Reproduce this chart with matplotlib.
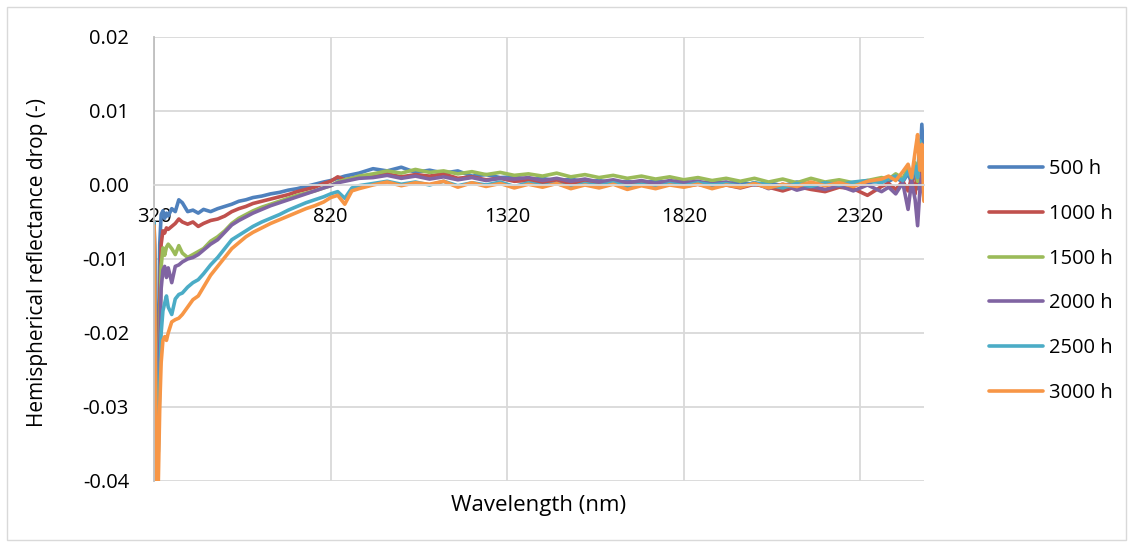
import numpy as np
import matplotlib
matplotlib.use('Agg')
import matplotlib.pyplot as plt
from matplotlib.patches import Rectangle

# Wavelength grid (nm) - dense at the UV end, sparser in the flat middle
wavelength = [320, 324, 328, 332, 336, 340, 345, 350, 355, 360, 370, 380, 390, 400, 415, 430, 445, 460,
              480, 500, 520, 540, 560, 580, 600, 625, 650, 675, 700, 725, 750, 775, 800, 820, 840, 860,
              880, 900,
              940, 980, 1020, 1060, 1100, 1140, 1180, 1220, 1260, 1300, 1340, 1380, 1420, 1460, 1500,
              1540, 1580, 1620, 1660, 1700, 1740, 1780, 1820, 1860, 1900, 1940, 1980, 2020, 2060, 2100,
              2140, 2180, 2220, 2260, 2300, 2340, 2380,
              2400, 2420, 2440, 2455, 2465, 2475, 2482, 2488, 2494, 2500]

# Reflectance drop, in thousandths (x 1e-3)
drop_500 = [-5, -18, -30, -22, -8, -4, -3.5, -4.5, -3.8, -4.2, -3.2, -3.6, -2.0, -2.4, -3.6, -3.4, -3.8, -3.3,
            -3.6, -3.2, -2.9, -2.6, -2.2, -2.0, -1.7, -1.5, -1.2, -1.0, -0.7, -0.5, -0.2, 0.1, 0.4, 0.6, 0.9, 1.2,
            1.4, 1.6,
            2.2, 1.9, 2.4, 1.7, 2.0, 1.6, 1.9, 1.2, 1.4, 1.0, 1.1, 0.7, 0.9, 0.5, 0.8,
            0.4, 0.6, 0.3, 0.5, 0.2, 0.6, 0.3, 0.4, 0.1, 0.5, 0.2, 0.4, 0.0, 0.3, -0.1,
            0.4, 0.1, 0.3, 0.0, 0.2, 0.3, 0.6,
            0.5, 1.0, 0.4, 1.6, 0.2, 2.0, -0.5, 2.5, 8.2, 3.0]
drop_1000 = [-5, -19, -31, -28, -16, -8, -6.2, -6.5, -5.8, -6.0, -5.6, -5.2, -4.6, -5.0, -5.3, -5.0, -5.6, -5.2,
             -4.8, -4.6, -4.2, -3.6, -3.2, -2.9, -2.5, -2.2, -1.9, -1.6, -1.3, -0.9, -0.6, -0.3, 0.2, 0.5, 1.1, 0.7,
             0.9, 1.1,
             1.3, 1.5, 1.1, 1.4, 1.2, 1.5, 0.9, 1.1, 0.7, 0.9, 0.5, 0.6, 0.3, 0.5, 0.2,
             0.4, 0.1, 0.3, -0.1, 0.2, 0.0, 0.3, -0.2, 0.1, -0.3, 0.0, -0.4, 0.1, -0.3, -0.8,
             -0.2, -0.6, -0.9, -0.3, -0.5, -1.4, -0.2,
             0.2, -0.6, 0.5, -0.8, 1.0, -1.2, 2.0, 0.5, 4.0, -0.5]
drop_1500 = [-5, -20, -32, -30, -20, -11, -8.5, -9.5, -8.4, -8.0, -8.6, -9.4, -8.2, -9.2, -9.8, -9.4, -9.0, -8.6,
             -7.6, -7.0, -6.2, -5.2, -4.5, -4.0, -3.5, -3.0, -2.6, -2.2, -1.8, -1.4, -1.1, -0.8, -0.4, -0.1, 0.4, 0.7,
             0.9, 1.2,
             1.5, 1.9, 1.6, 2.1, 1.7, 1.9, 1.5, 1.8, 1.4, 1.7, 1.3, 1.5, 1.2, 1.6, 1.1,
             1.4, 1.0, 1.3, 0.9, 1.2, 0.8, 1.1, 0.7, 1.0, 0.6, 0.9, 0.5, 0.9, 0.4, 0.8,
             0.3, 0.9, 0.4, 0.7, 0.3, 0.6, 1.0,
             0.8, 1.5, 0.9, 2.2, 1.0, 3.0, 0.5, 4.5, 2.0, 1.5]
drop_2000 = [-5, -21, -34, -32, -22, -14, -11.5, -11.0, -12.5, -11.2, -13.2, -11.0, -10.8, -10.4, -10.0, -9.8, -9.4, -8.8,
             -8.0, -7.4, -6.4, -5.4, -4.8, -4.3, -3.8, -3.3, -2.8, -2.4, -2.0, -1.6, -1.2, -0.8, -0.4, -0.1, 0.3, 0.5,
             0.7, 0.9,
             1.0, 1.3, 0.9, 1.2, 0.8, 1.1, 0.7, 1.0, 0.6, 0.9, 0.8, 1.0, 0.6, 0.9, 0.5,
             0.8, 0.4, 0.7, 0.3, 0.6, 0.2, 0.6, 0.3, 0.5, 0.1, 0.4, -0.2, 0.3, -0.5, 0.1,
             -0.7, -0.2, -0.6, -0.1, -0.8, 0.0, -0.9,
             -0.3, -1.2, 0.3, -3.3, 0.5, -2.0, -5.5, -1.0, 1.5, -2.0]
drop_2500 = [-5, -22, -37, -36, -27, -20, -17, -16, -15, -16.5, -17.5, -15.4, -14.8, -14.6, -13.8, -13.2, -12.8, -12.0,
             -10.8, -9.8, -8.6, -7.4, -6.8, -6.2, -5.6, -5.0, -4.5, -4.0, -3.4, -2.9, -2.4, -2.0, -1.6, -1.2, -0.9, -1.8,
             -0.4, -0.1,
             0.2, 0.5, 0.1, 0.4, 0.0, 0.5, -0.1, 0.3, 0.0, 0.4, -0.2, 0.3, -0.1, 0.2, -0.3,
             0.2, -0.1, 0.3, -0.2, 0.1, -0.3, 0.2, -0.1, 0.3, 0.0, 0.2, -0.2, 0.3, 0.0, -0.4,
             0.2, -0.2, 0.3, 0.0, 0.4, 0.6, 0.3,
             0.9, 1.2, 0.6, 1.8, 0.9, 2.5, 1.0, 6.0, 4.5, 2.0]
drop_3000 = [-5.5, -25, -45, -40, -30, -24, -21, -20.5, -21, -20.0, -18.5, -18.2, -18.0, -17.5, -16.5, -15.5, -15.0, -13.8,
             -12.2, -11.0, -9.8, -8.6, -7.8, -7.0, -6.4, -5.8, -5.2, -4.7, -4.2, -3.7, -3.2, -2.8, -2.3, -1.7, -1.4, -2.6,
             -0.8, -0.5,
             0.0, 0.4, -0.1, 0.3, 0.1, 0.5, -0.3, 0.3, -0.2, 0.2, -0.4, 0.1, -0.3, 0.2, -0.5,
             0.0, -0.4, 0.1, -0.6, -0.1, -0.5, 0.0, -0.3, 0.1, -0.5, 0.0, -0.3, 0.2, -0.4, 0.1,
             -0.2, 0.4, -0.1, 0.3, -0.2, 0.5, 0.8,
             1.2, 0.6, 1.8, 2.8, 1.0, 4.5, 6.8, 2.0, 5.5, -2.2]

labels = ['500 h', '1000 h', '1500 h', '2000 h', '2500 h', '3000 h']
colors = ['#4F81BD', '#C0504D', '#9BBB59', '#8064A2', '#4BACC6', '#F79646']
series = [drop_500, drop_1000, drop_1500, drop_2000, drop_2500, drop_3000]

x_ticks = [320, 820, 1320, 1820, 2320]
y_ticks = [0.02, 0.01, 0.00, -0.01, -0.02, -0.03, -0.04]

plt.rcParams['font.family'] = ['Open Sans', 'DejaVu Sans']

fig = plt.figure(figsize=(11.33, 5.47), dpi=100)
ax = fig.add_axes([0.136, 0.1207, 0.6795, 0.8117])

for vals, lab, col in zip(series, labels, colors):
    ax.plot(wavelength, np.array(vals) / 1000.0, color=col, lw=2.6, label=lab,
            solid_joinstyle='round', solid_capstyle='round')

ax.set_xlim(320, 2500)
ax.set_ylim(-0.04, 0.02)

for s in ['top', 'right']:
    ax.spines[s].set_visible(False)
ax.spines['left'].set_color('#BFBFBF')
ax.spines['left'].set_linewidth(1.3)
ax.spines['bottom'].set_position(('data', 0))
ax.spines['bottom'].set_color('#D9D9D9')
ax.spines['bottom'].set_linewidth(1.3)

# ticks after moving the spine (set_position resets the ticks)
ax.set_xticks(x_ticks)
ax.set_yticks(y_ticks)
ax.set_yticklabels([f'{v:.2f}' for v in y_ticks])
ax.set_xticklabels([str(v) for v in x_ticks])
ax.tick_params(axis='both', length=0, labelsize=14.5)
ax.tick_params(axis='x', pad=16)
ax.tick_params(axis='y', pad=18)
ax.grid(True, color='#D9D9D9', lw=1.3)
ax.set_axisbelow(True)

ax.set_xlabel('Wavelength (nm)', fontsize=16)
ax.xaxis.set_label_coords(0.5, -0.031)
ax.set_ylabel('Hemispherical reflectance drop (-)', fontsize=15)
ax.yaxis.set_label_coords(-0.138, 0.493)

fig.legend(loc='upper left', bbox_to_anchor=(0.873, 0.709), frameon=False, fontsize=14.5,
           handlelength=2.7, labelspacing=1.23, handletextpad=0.25, borderpad=0, borderaxespad=0)

fig.patches.append(Rectangle((0.006, 0.013), 0.988, 0.974, transform=fig.transFigure,
                             fill=False, edgecolor='#D9D9D9', lw=1))

fig.savefig('out.png', dpi=100)
